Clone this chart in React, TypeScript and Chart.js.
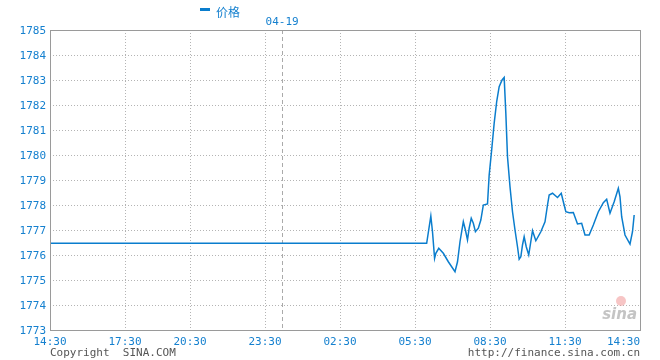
import React, { useEffect, useRef } from "react";
import { Chart, registerables } from "chart.js";

Chart.register(...registerables);

// Axis: minutes along the chart's timeline (14:30 = 0)
const tickValues = [0, 180, 336, 516, 696, 876, 1056, 1236, 1416];
const tickLabels = ["14:30", "17:30", "20:30", "23:30", "02:30", "05:30", "08:30", "11:30", "14:30"];
const dayMarkValue = 557;
const dayMarkLabel = "04-19";
const yTicks = [1773, 1774, 1775, 1776, 1777, 1778, 1779, 1780, 1781, 1782, 1783, 1784, 1785];
const seriesName = "价格";

const times = [
  0, 904, 914, 918, 923, 926, 933, 944, 956, 972, 978, 984, 992, 997, 1002, 1006, 1011, 1016, 1021, 1028,
  1034, 1040, 1050, 1054, 1060, 1066, 1072, 1078, 1085, 1090, 1094, 1098, 1104, 1110, 1116, 1122, 1126,
  1130, 1134, 1138, 1143, 1149, 1158, 1166, 1178, 1188, 1194, 1198, 1206, 1218, 1227, 1232, 1238, 1246,
  1256, 1266, 1276, 1284, 1294, 1304, 1316, 1328, 1336, 1344, 1354, 1364, 1368, 1372, 1380, 1392, 1398, 1402,
];
const prices = [
  1776.47, 1776.47, 1777.56, 1776.93, 1775.87, 1776.07, 1776.27, 1776.07, 1775.73, 1775.33, 1775.73, 1776.53,
  1777.33, 1777.0, 1776.6, 1777.07, 1777.47, 1777.27, 1776.93, 1777.07, 1777.4, 1778.0, 1778.04, 1779.2,
  1780.2, 1781.27, 1782.13, 1782.73, 1783.0, 1783.1, 1781.67, 1779.93, 1778.73, 1777.73, 1777.0, 1776.33,
  1775.83, 1775.93, 1776.4, 1776.73, 1776.33, 1776.0, 1776.97, 1776.57, 1776.93, 1777.33, 1778.0, 1778.4,
  1778.47, 1778.3, 1778.47, 1778.13, 1777.73, 1777.69, 1777.7, 1777.24, 1777.27, 1776.8, 1776.8, 1777.2,
  1777.73, 1778.09, 1778.23, 1777.67, 1778.13, 1778.67, 1778.33, 1777.53, 1776.8, 1776.44, 1776.93, 1777.6,
];

const BLUE = "#0a7dcd";
const TEXT_BLUE = "#1580cf";
const GRID = "#b4b4b4";
const MONO = "'DejaVu Sans Mono', 'Liberation Mono', monospace";

const decorPlugin = {
  id: "sinaDecor",
  beforeDatasetsDraw(chart: any) {
    const { ctx, chartArea: a, scales } = chart;
    const xs = scales.x;
    const ys = scales.y;
    ctx.save();
    ctx.lineWidth = 1;
    ctx.strokeStyle = GRID;
    ctx.setLineDash([1, 2]);
    yTicks.forEach((v) => {
      if (v === yTicks[0] || v === yTicks[yTicks.length - 1]) return;
      const y = Math.round(ys.getPixelForValue(v)) + 0.5;
      ctx.beginPath();
      ctx.moveTo(a.left, y);
      ctx.lineTo(a.right, y);
      ctx.stroke();
    });
    tickValues.forEach((v, i) => {
      if (i === 0 || i === tickValues.length - 1) return;
      const x = Math.round(xs.getPixelForValue(v)) + 0.5;
      ctx.beginPath();
      ctx.moveTo(x, a.top);
      ctx.lineTo(x, a.bottom);
      ctx.stroke();
    });
    ctx.setLineDash([4, 3]);
    ctx.strokeStyle = "#aaaaaa";
    const dx = Math.round(xs.getPixelForValue(dayMarkValue)) + 0.5;
    ctx.beginPath();
    ctx.moveTo(dx, a.top);
    ctx.lineTo(dx, a.bottom);
    ctx.stroke();
    ctx.setLineDash([]);

    // sina watermark
    ctx.fillStyle = "rgba(240,150,150,0.55)";
    ctx.beginPath();
    ctx.arc(a.right - 19, a.bottom - 29, 5, 0, Math.PI * 2);
    ctx.fill();
    ctx.font = "italic bold 15px 'DejaVu Sans', sans-serif";
    ctx.fillStyle = "#c4c4c4";
    ctx.textAlign = "right";
    ctx.textBaseline = "alphabetic";
    ctx.fillText("sina", a.right - 3, a.bottom - 11);
    ctx.restore();
  },
  afterDraw(chart: any) {
    const { ctx, chartArea: a, scales } = chart;
    const xs = scales.x;
    const ys = scales.y;
    ctx.save();
    ctx.strokeStyle = "#9a9a9a";
    ctx.lineWidth = 1;
    ctx.strokeRect(Math.round(a.left) + 0.5, Math.round(a.top) + 0.5, Math.round(a.right - a.left), Math.round(a.bottom - a.top));

    ctx.font = `11px ${MONO}`;
    ctx.fillStyle = TEXT_BLUE;
    ctx.textAlign = "right";
    ctx.textBaseline = "middle";
    yTicks.forEach((v) => {
      ctx.fillText(String(v), a.left - 4, ys.getPixelForValue(v) + 1);
    });
    tickValues.forEach((v, i) => {
      const x = xs.getPixelForValue(v);
      if (i === tickValues.length - 1) {
        ctx.textAlign = "right";
        ctx.fillText(tickLabels[i], a.right, a.bottom + 12);
      } else {
        ctx.textAlign = "center";
        ctx.fillText(tickLabels[i], x, a.bottom + 12);
      }
    });
    ctx.textAlign = "center";
    ctx.fillText(dayMarkLabel, xs.getPixelForValue(dayMarkValue), a.top - 8);

    ctx.fillStyle = BLUE;
    ctx.fillRect(200, 8, 10, 3);
    ctx.font = "12px 'Noto Sans CJK SC', sans-serif";
    ctx.fillStyle = TEXT_BLUE;
    ctx.textAlign = "left";
    ctx.fillText(seriesName, 216, 12);

    ctx.font = `11px ${MONO}`;
    ctx.fillStyle = "#555555";
    ctx.textAlign = "left";
    ctx.fillText("Copyright  SINA.COM", a.left, a.bottom + 23);
    ctx.textAlign = "right";
    ctx.fillText("http://finance.sina.com.cn", a.right, a.bottom + 23);
    ctx.restore();
  },
};

export default function App() {
  const ref = useRef<HTMLCanvasElement | null>(null);
  useEffect(() => {
    if (!ref.current) return;
    const chart = new Chart(ref.current, {
      type: "line",
      data: {
        datasets: [
          {
            label: seriesName,
            data: times.map((t, i) => ({ x: t, y: prices[i] })),
            borderColor: BLUE,
            borderWidth: 1.5,
            pointRadius: 0,
            tension: 0,
            fill: false,
          },
        ],
      },
      options: {
        responsive: false,
        animation: false,
        devicePixelRatio: 1,
        layout: { padding: { left: 50, top: 30, right: 20, bottom: 30 } },
        plugins: { legend: { display: false }, tooltip: { enabled: false } },
        scales: {
          x: {
            type: "linear",
            min: tickValues[0],
            max: tickValues[tickValues.length - 1],
            grid: { display: false, drawTicks: false },
            border: { display: false },
            ticks: { display: false },
          },
          y: {
            type: "linear",
            min: yTicks[0],
            max: yTicks[yTicks.length - 1],
            grid: { display: false, drawTicks: false },
            border: { display: false },
            ticks: { display: false },
          },
        },
      },
      plugins: [decorPlugin],
    });
    return () => chart.destroy();
  }, []);
  return (
    <div style={{ position: "fixed", left: 0, top: 0, width: 660, height: 360, background: "#fff" }}>
      <canvas ref={ref} width={660} height={360} style={{ width: 660, height: 360, display: "block" }} />
    </div>
  );
}
